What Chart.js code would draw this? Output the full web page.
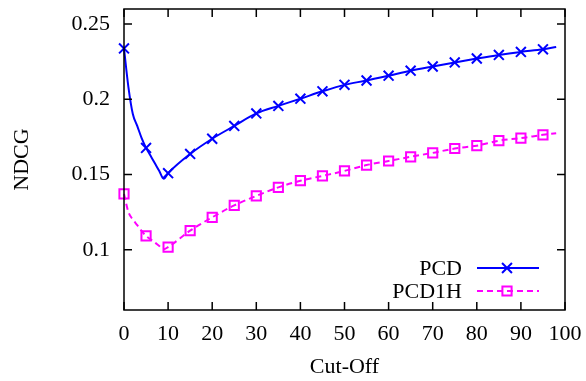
<!DOCTYPE html>
<html>
<head>
<meta charset="utf-8">
<script src="https://cdn.jsdelivr.net/npm/chart.js@4/dist/chart.umd.min.js"></script>
<style>
  html, body { margin: 0; padding: 0; background: #fff; }
  #wrap { width: 586px; height: 381px; }
</style>
</head>
<body>
<div id="wrap"><canvas id="graphCanvas" width="586" height="381"></canvas></div>
<script>
// values
const cutoffs = [0, 1, 2, 3, 4, 5, 6, 7, 8, 9, 10, 15, 20, 25, 30, 35, 40, 45, 50, 55, 60, 65, 70, 75, 80, 85, 90, 95, 98];
const pcd = [0.2338, 0.2081, 0.1902, 0.1823, 0.1742, 0.1677, 0.1626, 0.1575, 0.1523, 0.1472, 0.1509,
    0.1637, 0.1738, 0.1823, 0.1906, 0.1956, 0.2004, 0.2053, 0.2096, 0.2125, 0.2157, 0.2190, 0.2218,
    0.2245, 0.2271, 0.2295, 0.2315, 0.2332, 0.2347];
const pcd1h = [0.1371, 0.1251, 0.1201, 0.1164, 0.1125, 0.1092, 0.1070, 0.1048, 0.1025, 0.1003, 0.1018,
    0.1127, 0.1216, 0.1295, 0.1358, 0.1415, 0.1459, 0.1491, 0.1524, 0.1563, 0.1590, 0.1618, 0.1644,
    0.1673, 0.1692, 0.1725, 0.1742, 0.1764, 0.1775];
const seriesNames = ['PCD', 'PCD1H'];
const xTicks = [0, 10, 20, 30, 40, 50, 60, 70, 80, 90, 100];
const yTicks = [0.1, 0.15, 0.2, 0.25];

const FONT = '"Liberation Serif", "Times New Roman", serif';
const FSIZE = 22;
const BLUE = '#0000ff';
const MAGENTA = '#ff00ff';

function toPoints(ys) {
    return cutoffs.map((x, i) => ({ x: x, y: ys[i] }));
}

// markers only every 5 cut-offs, like gnuplot's pointinterval
function markerRadius(r) {
    return function (ctx) {
        const x = cutoffs[ctx.dataIndex];
        return (x % 5 === 0 && x <= 95) ? r : 0;
    };
}

function drawMarker(ctx, style, x, y, r) {
    ctx.beginPath();
    if (style === 'crossRot') {
        const d = r * Math.SQRT1_2;
        ctx.moveTo(x - d, y - d); ctx.lineTo(x + d, y + d);
        ctx.moveTo(x - d, y + d); ctx.lineTo(x + d, y - d);
    } else {
        const s = r * Math.SQRT1_2;
        ctx.rect(x - s, y - s, 2 * s, 2 * s);
    }
    ctx.stroke();
}

// frame, inward ticks on all sides, gnuplot style key
const framePlugin = {
    id: 'frame',
    afterDatasetsDraw(chart) {
        const { ctx, chartArea: a, scales } = chart;
        const tl = 8;
        ctx.save();
        ctx.strokeStyle = '#000';
        ctx.lineWidth = 1.5;
        ctx.beginPath();
        xTicks.forEach(v => {
            const px = scales.x.getPixelForValue(v);
            ctx.moveTo(px, a.bottom); ctx.lineTo(px, a.bottom - tl);
            ctx.moveTo(px, a.top); ctx.lineTo(px, a.top + tl);
        });
        yTicks.forEach(v => {
            const py = scales.y.getPixelForValue(v);
            ctx.moveTo(a.left, py); ctx.lineTo(a.left + tl, py);
            ctx.moveTo(a.right, py); ctx.lineTo(a.right - tl, py);
        });
        ctx.stroke();
        ctx.strokeRect(a.left, a.top, a.right - a.left, a.bottom - a.top);

        // key
        ctx.font = FSIZE + 'px ' + FONT;
        ctx.textAlign = 'right';
        ctx.textBaseline = 'middle';
        chart.data.datasets.forEach((ds, i) => {
            const y = 268 + i * 23;
            ctx.fillStyle = '#000';
            ctx.fillText(ds.label, 462, y + 1);
            ctx.strokeStyle = ds.borderColor;
            ctx.lineWidth = 2;
            ctx.setLineDash(ds.borderDash || []);
            ctx.beginPath();
            ctx.moveTo(477, y); ctx.lineTo(539, y);
            ctx.stroke();
            ctx.setLineDash([]);
            drawMarker(ctx, ds.pointStyle, 507, y, ds.markerSize);
        });
        ctx.restore();
    }
};

const ctx = document.getElementById('graphCanvas').getContext('2d');
const chart = new Chart(ctx, {
    type: 'line',
    data: {
        datasets: [
            {
                label: seriesNames[0],
                data: toPoints(pcd),
                borderColor: BLUE,
                borderWidth: 2,
                pointStyle: 'crossRot',
                markerSize: 7,
                pointRadius: markerRadius(7),
                pointBorderColor: BLUE,
                pointBorderWidth: 2,
                pointBackgroundColor: 'transparent',
                tension: 0.2,
                cubicInterpolationMode: 'monotone',
                clip: false,
            },
            {
                label: seriesNames[1],
                data: toPoints(pcd1h),
                borderColor: MAGENTA,
                borderWidth: 2,
                borderDash: [6, 4],
                pointStyle: 'rect',
                markerSize: 6.5,
                pointRadius: markerRadius(6.5),
                pointBorderColor: MAGENTA,
                pointBorderWidth: 2,
                pointBackgroundColor: 'transparent',
                tension: 0.2,
                cubicInterpolationMode: 'monotone',
                clip: false,
            }
        ]
    },
    options: {
        responsive: false,
        animation: false,
        devicePixelRatio: 1,
        layout: { padding: { left: 0, right: 21, top: 6, bottom: 0 } },
        plugins: {
            legend: { display: false },
            tooltip: { enabled: false }
        },
        scales: {
            x: {
                type: 'linear',
                min: 0,
                max: 100,
                afterBuildTicks: scale => { scale.ticks = xTicks.map(v => ({ value: v })); },
                afterFit: scale => {
                    scale.height = 71;
                    scale.paddingLeft = 0;
                    scale.paddingRight = 0;
                },
                grid: { display: false, drawTicks: false },
                border: { display: false },
                ticks: {
                    padding: 11,
                    color: '#000',
                    maxRotation: 0,
                    font: { family: FONT, size: FSIZE },
                    callback: v => String(v)
                },
                title: {
                    display: true,
                    text: 'Cut-Off',
                    color: '#000',
                    padding: { top: 0, bottom: 1 },
                    font: { family: FONT, size: FSIZE }
                }
            },
            y: {
                type: 'linear',
                min: 0.06,
                max: 0.26,
                afterBuildTicks: scale => { scale.ticks = yTicks.map(v => ({ value: v })); },
                afterFit: scale => {
                    scale.width = 124;
                    scale.paddingTop = 0;
                    scale.paddingBottom = 0;
                },
                grid: { display: false, drawTicks: false },
                border: { display: false },
                ticks: {
                    padding: 14,
                    color: '#000',
                    font: { family: FONT, size: FSIZE },
                    callback: v => String(v)
                },
                title: {
                    display: true,
                    text: 'NDCG',
                    color: '#000',
                    padding: { top: 9, bottom: 0 },
                    font: { family: FONT, size: FSIZE }
                }
            }
        }
    },
    plugins: [framePlugin]
});
</script>
</body>
</html>
